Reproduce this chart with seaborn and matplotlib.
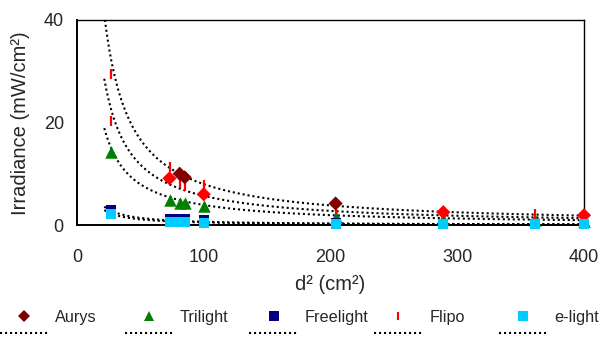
import numpy as np
import pandas as pd
import seaborn as sns
import matplotlib.pyplot as plt
from matplotlib.lines import Line2D

# d^2 (cm^2) measurement positions
aurys_x = [73, 81, 85, 100, 204, 289, 400]
aurys_y = [9.1, 10.0, 9.3, 6.0, 4.2, 2.5, 1.9]
aurys_colors = ['#FF0000', '#800000', '#800000', '#FF0000', '#800000', '#FF0000', '#FF0000']

trilight_x = [27, 73, 81, 85, 100, 204, 289, 361, 400]
trilight_y = [14.3, 4.9, 4.3, 4.3, 3.7, 1.6, 1.2, 0.9, 0.8]

freelight_x = [27, 73, 81, 85, 100, 204, 289, 361, 400]
freelight_y = [2.9, 1.1, 1.1, 1.1, 0.9, 0.35, 0.25, 0.2, 0.2]

flipo_x = [27, 27, 73, 81, 85, 100, 204, 289, 361, 400]
flipo_y = [29.5, 20.3, 11.3, 8.1, 7.6, 7.8, 3.1, 2.6, 2.1, 1.9]

elight_x = [27, 73, 81, 85, 100, 204, 289, 361, 400]
elight_y = [2.2, 0.6, 0.5, 0.5, 0.4, 0.2, 0.1, 0.1, 0.1]

# power trendlines y = a * x^b
series_names = ['Aurys', 'Trilight', 'Freelight', 'Flipo', 'e-light']
trend_a = [1076, 440, 111, 713, 99]
trend_b = [-1.065, -1.026, -1.12, -1.049, -1.15]
trend_range = (21.5, 400)

colors = {'Aurys': '#800000', 'Trilight': '#008000', 'Freelight': '#000080',
          'Flipo': '#FF0000', 'e-light': '#00CCFF'}
markers = {'Aurys': 'D', 'Trilight': '^', 'Freelight': 's', 'Flipo': '|', 'e-light': 's'}

sns.set_style('white')
plt.rcParams['font.family'] = ['Liberation Sans', 'DejaVu Sans']

W, H = 601, 338
fig = plt.figure(figsize=(W / 100, H / 100), dpi=100)
ax = fig.add_axes([77 / W, 1 - 225 / H, 507 / W, 205 / H])

# trendlines
xs = np.linspace(trend_range[0], trend_range[1], 400)
dotted = (0, (1, 1.4))
for name, a, b in zip(series_names, trend_a, trend_b):
    sns.lineplot(x=xs, y=a * xs ** b, ax=ax, color='black', lw=1.5,
                 linestyle=dotted, legend=False, zorder=2)

# markers
sns.scatterplot(x=trilight_x, y=trilight_y, ax=ax, marker='^', color=colors['Trilight'],
                s=80, linewidth=0, clip_on=False, zorder=3)
sns.scatterplot(x=flipo_x, y=flipo_y, ax=ax, marker='|', color=colors['Flipo'],
                s=52, linewidth=1.6, clip_on=False, zorder=4)
sns.scatterplot(x=aurys_x, y=aurys_y, ax=ax, marker='D', c=aurys_colors,
                s=52, linewidth=0, clip_on=False, zorder=5)
sns.scatterplot(x=freelight_x, y=freelight_y, ax=ax, marker='s', color=colors['Freelight'],
                s=50, linewidth=0, clip_on=False, zorder=6)
sns.scatterplot(x=elight_x, y=elight_y, ax=ax, marker='s', color=colors['e-light'],
                s=50, linewidth=0, clip_on=False, zorder=7)

ax.set_xlim(0, 400)
ax.set_ylim(0, 40)
ax.set_xticks([0, 100, 200, 300, 400])
ax.set_yticks([0, 20, 40])
ax.tick_params(axis='x', direction='out', length=5, width=1, pad=12, labelsize=13, color='black')
ax.tick_params(axis='y', direction='out', length=4.5, width=1, pad=5, labelsize=13, color='black')
ax.set_xlabel('')
ax.set_ylabel('')
for side in ['left', 'bottom']:
    ax.spines[side].set_linewidth(1.4)
    ax.spines[side].set_color('black')
for side in ['top', 'right']:
    ax.spines[side].set_linewidth(1.0)
    ax.spines[side].set_color('black')

fig.text(21 / W, 1 - 123 / H, 'Irradiance (mW/cm²)', rotation=90,
         ha='center', va='center', fontsize=14.5)
fig.text(330 / W, 1 - 284 / H, 'd² (cm²)', ha='center', va='center', fontsize=14.5)

# legend: one column per series, marker row then trendline row
col_step = 124.7
for k, name in enumerate(series_names):
    is_bar = markers[name] == '|'
    mk = Line2D([], [], linestyle='none', marker=markers[name], color=colors[name],
                markersize=6 if is_bar else 6.5, markeredgewidth=1.5 if is_bar else 0)
    tl = Line2D([], [], color='black', lw=1.5, linestyle=dotted)
    fig.legend([mk, tl], [name, ''], loc='upper left',
               bbox_to_anchor=(k * col_step / W, 1 - 310 / H),
               frameon=False, borderpad=0, borderaxespad=0, labelspacing=0.1,
               handlelength=3.0, handletextpad=0.4, fontsize=11.7)

fig.savefig('out.png', dpi=100)
